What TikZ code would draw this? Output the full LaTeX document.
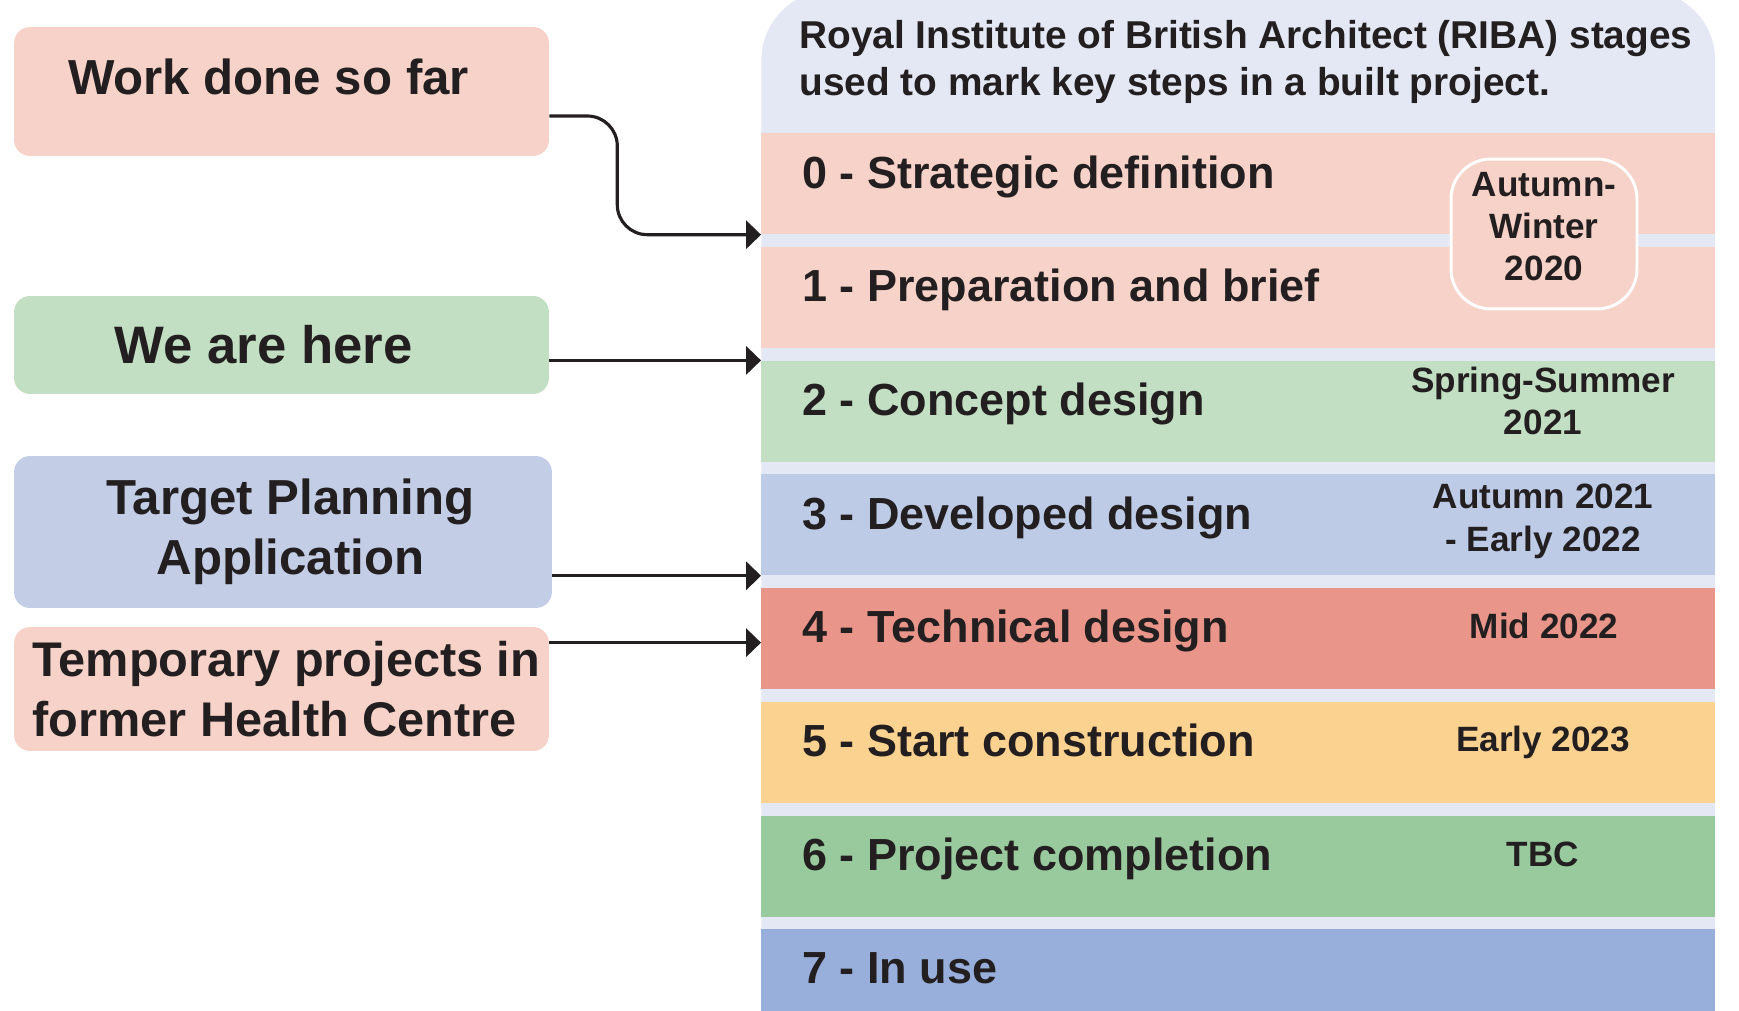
\documentclass[tikz,border=0pt]{standalone}
\usepackage{fontspec}
\setmainfont{Liberation Sans}
\usetikzlibrary{calc,arrows.meta}

\definecolor{ink}{HTML}{231F20}
\definecolor{panel}{HTML}{E4E8F4}
\definecolor{rosa}{HTML}{F6D2C8}
\definecolor{mint}{HTML}{C2DFC3}
\definecolor{sky}{HTML}{BDCBE6}
\definecolor{skybox}{HTML}{C3CEE6}
\definecolor{coral}{HTML}{EA958A}
\definecolor{sand}{HTML}{FCD290}
\definecolor{leaf}{HTML}{98CA9E}
\definecolor{denim}{HTML}{97AFDA}

\tikzset{
  side/.style={rounded corners=0.32cm, inner sep=2pt, align=center, text=ink,
    font=\fontsize{28}{34}\selectfont\bfseries},
  band/.style={minimum width=19.08cm, minimum height=2.02cm, inner sep=0pt, anchor=north west},
  stage/.style={anchor=base west, inner sep=0pt, text=ink, font=\fontsize{25.6}{30}\selectfont\bfseries},
  when/.style={align=center, inner sep=0pt, text=ink, font=\fontsize{20}{24}\selectfont\bfseries},
  conn/.style={draw=ink, line width=1.8pt, -{Triangle[length=8.5pt,width=16pt]}},
}

\begin{document}
\begin{tikzpicture}[x=0.02cm, y=-0.02cm]
  \useasboundingbox (0,0) rectangle (1739,1011);

  % stages panel
  \node[fill=panel, rounded corners=1.4cm, minimum width=19.08cm, minimum height=21.7cm,
        inner sep=0pt, anchor=north west] (board) at (761,-10) {};
  \node[anchor=base west, inner sep=0pt, align=left, text=ink,
        font=\fontsize{22.1}{26.2}\selectfont\bfseries] (head) at (799,95)
        {Royal Institute of British Architect (RIBA) stages\\used to mark key steps in a built project.};

  \foreach \i/\c/\t in {0/rosa/Strategic definition, 1/rosa/Preparation and brief,
                        2/mint/Concept design, 3/sky/Developed design,
                        4/coral/Technical design, 5/sand/Start construction,
                        6/leaf/Project completion, 7/denim/In use} {
    \node[band, fill=\c] (s\i) at (761, {133+113.7*\i}) {};
    \node[stage] (l\i) at ($(s\i.north west)+(41,55)$) {\i{} - \t};
  }

  % dates
  \node[when, draw=white, line width=1.7pt, fill=rosa, rounded corners=0.8cm, text depth=9pt,
        minimum width=3.72cm, minimum height=3cm] (d0) at (1544,234) {Autumn-\\Winter\\2020};
  \node[when, anchor=base] (d2) at ($(s2.north west)+(782,74)$) {Spring-Summer\\2021};
  \node[when, anchor=base] (d3) at ($(s3.north west)+(782,77)$) {Autumn 2021\\- Early 2022};
  \node[when, anchor=base] (d4) at ($(s4.north west)+(783,51)$) {Mid 2022};
  \node[when, anchor=base] (d5) at ($(s5.north west)+(782,50)$) {Early 2023};
  \node[when, anchor=base] (d6) at ($(s6.north west)+(782,51)$) {TBC};

  % left boxes
  \node[side, fill=rosa, minimum width=10.7cm, minimum height=2.58cm] (work) at (281.5,91.5) {};
  \node[anchor=base, inner sep=0pt, text=ink, font=\fontsize{28}{34}\selectfont\bfseries]
        (worktxt) at ($(work.north)+(-13,68)$) {Work done so far};
  \node[side, fill=mint, minimum width=10.7cm, minimum height=1.96cm,
        font=\fontsize{30}{34}\selectfont\bfseries] (we) at (281.5,345) {We are here\hspace*{0.72cm}};
  \node[side, fill=skybox, minimum width=10.76cm, minimum height=3.04cm] (target) at (283,532)
        {\hspace*{0.3cm}Target Planning\\\hspace*{0.3cm}Application};
  \node[side, fill=rosa, align=left, minimum width=10.7cm, minimum height=2.48cm,
        font=\fontsize{27.7}{34}\selectfont\bfseries] (temp) at (281.5,689)
        {\hspace*{0.2cm}Temporary projects in\\\hspace*{0.2cm}former Health Centre};

  % arrows
  \draw[conn, rounded corners=0.6cm] ($(work.east)+(0,24.5)$) -- ++(68,0) |- (s0.south west);
  \draw[conn] (we.east |- s2.north west) -- (s2.north west);
  \draw[conn] (target.east |- s3.south west) -- (s3.south west);
  \draw[conn] ($(temp.east |- s4.west)+(0,4)$) -- ($(s4.west)+(0,4)$);
\end{tikzpicture}
\end{document}
